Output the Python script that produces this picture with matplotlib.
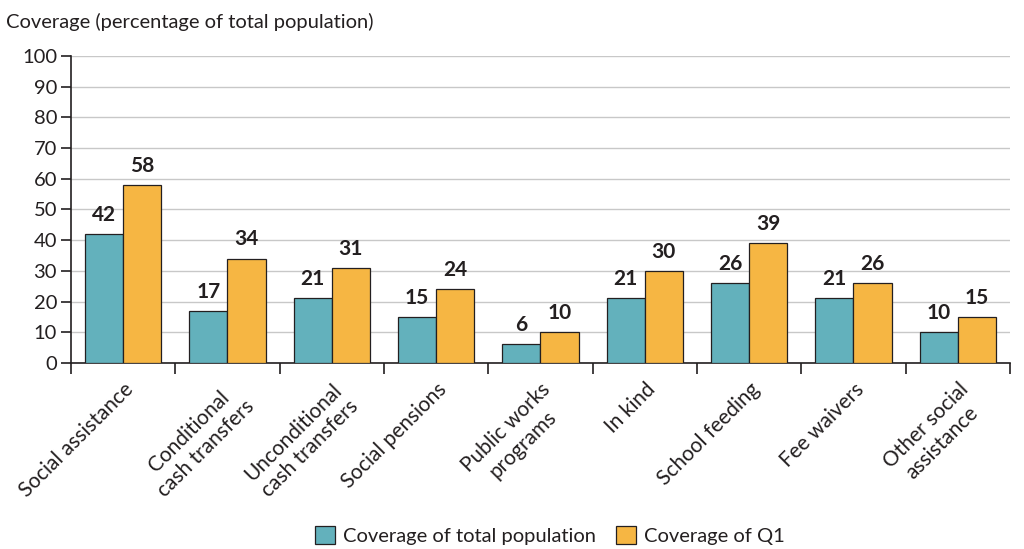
import matplotlib.pyplot as plt
import numpy as np

plt.rcParams['font.family'] = ['Lato', 'DejaVu Sans']

categories = ["Social assistance", "Conditional\ncash transfers", "Unconditional\ncash transfers",
              "Social pensions", "Public works\nprograms", "In kind", "School feeding",
              "Fee waivers", "Other social\nassistance"]
total_pop = [42, 17, 21, 15, 6, 21, 26, 21, 10]
q1 = [58, 34, 31, 24, 10, 30, 39, 26, 15]

teal = "#63b1bc"
orange = "#f6b643"
ink = "#231f20"

fig = plt.figure(figsize=(10.24, 5.49), dpi=100)
ax = fig.add_axes([0.0693, 0.339, 0.917, 0.559])

x = np.arange(len(categories))
w = 0.365
b1 = ax.bar(x - w / 2, total_pop, w, color=teal, edgecolor=ink, linewidth=0.9,
            label="Coverage of total population", zorder=3)
b2 = ax.bar(x + w / 2, q1, w, color=orange, edgecolor=ink, linewidth=0.9,
            label="Coverage of Q1", zorder=3)
for bars, vals in ((b1, total_pop), (b2, q1)):
    for r, v in zip(bars, vals):
        ax.text(r.get_x() + r.get_width() / 2, v + 3, f"{v}", ha="center", va="bottom",
                fontsize=15, fontweight="bold", color=ink)

ax.set_xlim(-0.5, len(categories) - 0.5)
ax.set_ylim(0, 100)
ax.set_yticks(range(0, 101, 10))
ax.yaxis.grid(True, color="#c8c8c8", linewidth=1, zorder=0)
ax.set_axisbelow(True)

ax.set_xticks(x)
ax.set_xticklabels(categories, rotation=45, ha="right", va="top",
                   rotation_mode="anchor", multialignment="center")
ax.set_xticks(np.arange(-0.5, len(categories)), minor=True)
ax.tick_params(axis="x", which="major", length=0, pad=12, labelsize=15, colors=ink)
ax.tick_params(axis="x", which="minor", length=8, width=1.2, direction="out", color=ink)
ax.tick_params(axis="y", length=7, width=1.2, labelsize=14.5, colors=ink, pad=3)

for s in ("top", "right"):
    ax.spines[s].set_visible(False)
for s in ("left", "bottom"):
    ax.spines[s].set_color(ink)
    ax.spines[s].set_linewidth(1.2)

fig.text(0.006, 0.96, "Coverage (percentage of total population)", fontsize=14.5,
         color=ink, ha="left", va="center")

fig.legend(handles=[b1, b2], loc="center", bbox_to_anchor=(0.537, 0.024), ncol=2,
           frameon=False, fontsize=14.5, handlelength=1.0, handleheight=1.0,
           handletextpad=0.4, columnspacing=1.0, labelcolor=ink)

fig.savefig("out.png", dpi=100)
